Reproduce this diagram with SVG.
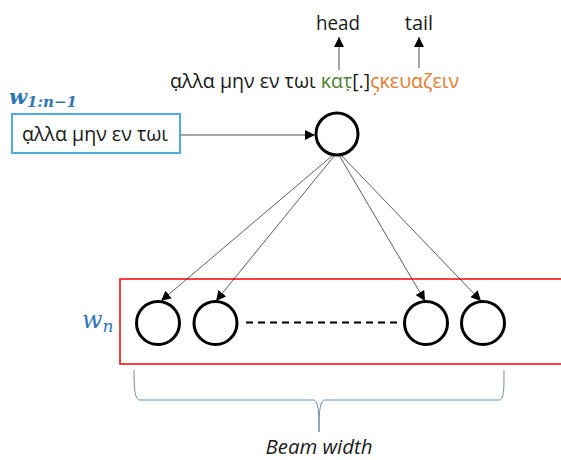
<svg xmlns="http://www.w3.org/2000/svg" width="561" height="460" viewBox="0 0 561 460">
<style>
.t{font-family:"Open Sans","Noto Sans",sans-serif;font-size:20px;fill:#1a1a1a}
.node{fill:#fff;stroke:#000;stroke-width:3}
.lbl{font-family:"DejaVu Serif","Liberation Serif",serif;font-style:italic;fill:#2E75B6}
.thin{stroke:#333;stroke-width:0.8;fill:none}
.gray{stroke:#888;stroke-width:1.5;fill:none}
</style>
<defs>
<marker id="ah" viewBox="0 0 10 10" refX="10" refY="5" markerWidth="10" markerHeight="10" markerUnits="userSpaceOnUse" orient="auto">
<path d="M0,0 L10,5 L0,10 z" fill="#000"/>
</marker>
</defs>
<rect width="561" height="460" fill="#fff"/>
<g id="labels-top">
<text class="t" x="338" y="30" text-anchor="middle" textLength="44" lengthAdjust="spacingAndGlyphs">head</text>
<text class="t" x="419" y="30" text-anchor="middle">tail</text>
<text class="t" x="170" y="88" textLength="289" lengthAdjust="spacingAndGlyphs">α̣λλα μην εν τωι <tspan fill="#548235">κατ̣</tspan>[.]<tspan fill="#E87A2E">ς̣κευαζειν</tspan></text>
</g>
<g id="input-box">
<rect x="12" y="114" width="168" height="39" fill="#fff" stroke="#4AAED8" stroke-width="2"/>
<text class="t" x="95" y="141" text-anchor="middle" textLength="146" lengthAdjust="spacingAndGlyphs">α̣λλα μην εν τωι</text>
<text class="lbl" x="9" y="104" font-size="21" font-weight="bold">w<tspan font-size="15" dy="3">1:n−1</tspan></text>
</g>
<g id="top-node"><circle class="node" cx="337" cy="134" r="21"/></g>
<g id="beam">
<rect x="120" y="279" width="450" height="85" fill="none" stroke="#FF0000" stroke-width="1.5"/>
<text class="lbl" x="82" y="328" font-size="24">w<tspan font-size="17" dy="4">n</tspan></text>
</g>
<g id="n1"><circle class="node" cx="158" cy="323" r="21.5"/></g>
<g id="n2"><circle class="node" cx="215.5" cy="323" r="21.5"/></g>
<g id="n3"><circle class="node" cx="426" cy="323" r="21.5"/></g>
<g id="n4"><circle class="node" cx="483" cy="323" r="21.5"/></g>
<g id="connectors">
<line class="gray" x1="339" y1="70" x2="339" y2="37" marker-end="url(#ah)"/>
<line class="gray" x1="419" y1="68" x2="419" y2="37" marker-end="url(#ah)"/>
<line class="gray" x1="180" y1="135" x2="315" y2="135" marker-end="url(#ah)"/>
<line class="thin" x1="333" y1="155" x2="161" y2="301" marker-end="url(#ah)"/>
<line class="thin" x1="335" y1="155" x2="216" y2="301" marker-end="url(#ah)"/>
<line class="thin" x1="339" y1="155" x2="425" y2="301" marker-end="url(#ah)"/>
<line class="thin" x1="341" y1="155" x2="481" y2="301" marker-end="url(#ah)"/>
<line x1="246" y1="322.5" x2="398" y2="322.5" stroke="#000" stroke-width="2" stroke-dasharray="7,5"/>
</g>
<g id="brace">
<path d="M134,370 C134,390 135,400 140,400 L313,400 C318,400 319,410 319,432 C319,410 320,400 325,400 L499,400 C504,400 504,390 504,370" fill="none" stroke="#6A8CB0" stroke-width="1"/>
<text x="319" y="454" text-anchor="middle" font-family="Open Sans,sans-serif" font-style="italic" font-size="20" fill="#1a1a1a" textLength="107" lengthAdjust="spacingAndGlyphs">Beam width</text>
</g>
</svg>
